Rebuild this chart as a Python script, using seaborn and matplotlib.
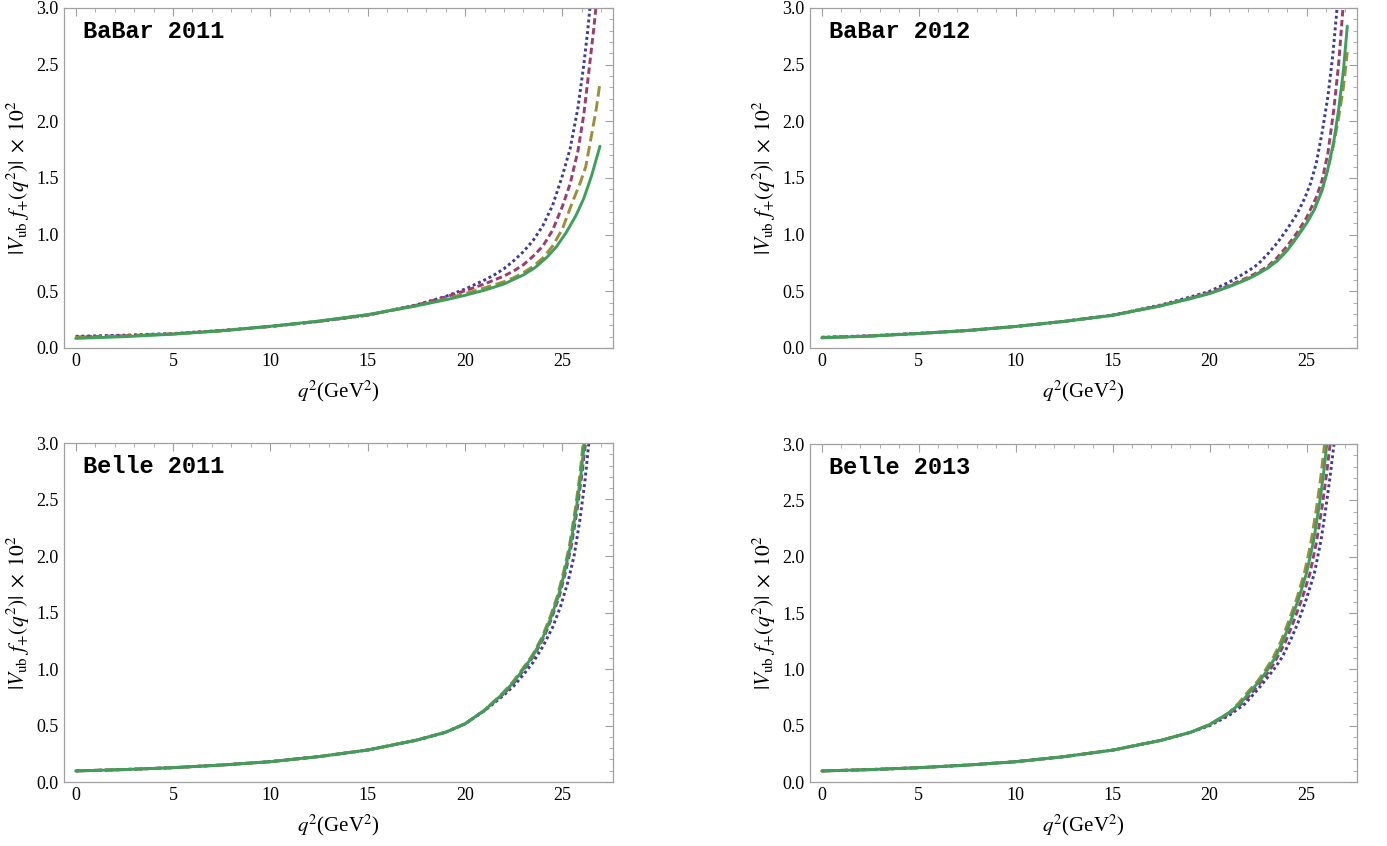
import matplotlib
matplotlib.use("Agg")
import matplotlib.pyplot as plt
import seaborn as sns
from matplotlib.ticker import MultipleLocator

# --- Data ---
low_q = [0, 2.5, 5, 7.5, 10, 12.5, 15, 17.5, 19]

# BaBar 2011
q_b11_blue = low_q + [20, 21, 21.5, 22, 22.5, 23, 23.5, 24, 24.5, 25, 25.4, 25.8, 26.1, 26.3, 26.5]
v_b11_blue = [0.103, 0.113, 0.128, 0.155, 0.19, 0.235, 0.29, 0.38, 0.455,
              0.52, 0.6, 0.645, 0.7, 0.77, 0.85, 0.95, 1.08, 1.26, 1.52, 1.76, 2.12, 2.5, 2.8, 3.15]
q_b11_purple = low_q + [20, 21, 22, 22.5, 23, 23.5, 24, 24.5, 25, 25.4, 25.8, 26.1, 26.4, 26.6, 26.78]
v_b11_purple = [0.097, 0.108, 0.125, 0.153, 0.19, 0.235, 0.29, 0.378, 0.45,
                0.505, 0.565, 0.635, 0.68, 0.735, 0.81, 0.9, 1.04, 1.25, 1.45, 1.74, 2.06, 2.5, 2.8, 3.1]
q_b11_olive = low_q + [20, 21, 22, 22.5, 23, 23.5, 24, 24.5, 25, 25.5, 25.9, 26.2, 26.5, 26.75, 26.93]
v_b11_olive = [0.092, 0.105, 0.124, 0.152, 0.19, 0.236, 0.292, 0.372, 0.432,
               0.48, 0.53, 0.585, 0.62, 0.665, 0.72, 0.795, 0.9, 1.05, 1.28, 1.45, 1.6, 1.88, 2.12, 2.34]
q_b11_green = low_q + [20, 21, 22, 23, 23.6, 24.2, 24.7, 25.2, 25.7, 26.1, 26.5, 26.93]
v_b11_green = [0.085, 0.1, 0.122, 0.152, 0.192, 0.238, 0.295, 0.372, 0.425,
               0.465, 0.51, 0.565, 0.645, 0.71, 0.8, 0.895, 1.02, 1.17, 1.32, 1.52, 1.78]

# BaBar 2012
q_b12_blue = low_q + [20, 21, 22, 22.5, 23, 23.5, 24, 24.5, 24.9, 25.2, 25.5, 25.8, 26.1, 26.35, 26.6]
v_b12_blue = [0.095, 0.108, 0.13, 0.155, 0.19, 0.235, 0.29, 0.38, 0.45,
              0.5, 0.58, 0.68, 0.74, 0.83, 0.93, 1.05, 1.18, 1.32, 1.45, 1.63, 1.9, 2.22, 2.58, 3.05]
q_b12_purple = low_q + [20, 21, 22, 22.5, 23, 23.5, 24, 24.5, 25, 25.5, 25.8, 26.1, 26.4, 26.65, 26.9]
v_b12_purple = [0.093, 0.106, 0.128, 0.154, 0.19, 0.235, 0.29, 0.375, 0.44,
                0.49, 0.55, 0.625, 0.67, 0.72, 0.8, 0.9, 1.015, 1.15, 1.33, 1.48, 1.72, 2.1, 2.5, 3.05]
q_b12_olive = low_q + [20, 21, 22, 22.5, 23, 23.5, 24, 24.5, 25, 25.4, 25.8, 26.1, 26.4, 26.65, 26.9, 27.1]
v_b12_olive = [0.09, 0.105, 0.128, 0.154, 0.19, 0.235, 0.289, 0.373, 0.437,
               0.483, 0.543, 0.615, 0.66, 0.71, 0.778, 0.87, 0.985, 1.11, 1.23, 1.4, 1.58, 1.8, 2.03, 2.3, 2.61]
q_b12_green = low_q + [20, 21, 22, 22.5, 23, 23.5, 24, 24.5, 25, 25.4, 25.8, 26.1, 26.4, 26.65, 26.9, 27.1]
v_b12_green = [0.09, 0.105, 0.128, 0.154, 0.19, 0.235, 0.288, 0.372, 0.435,
               0.48, 0.54, 0.61, 0.655, 0.705, 0.77, 0.86, 0.975, 1.1, 1.22, 1.39, 1.58, 1.82, 2.1, 2.45, 2.84]

# Belle 2011
belle_low_v = [0.098, 0.11, 0.127, 0.15, 0.18, 0.225, 0.283, 0.37, 0.44]
q_e11_blue = low_q + [20, 21, 22, 22.5, 23, 23.5, 24, 24.5, 24.9, 25.3, 25.6, 25.9, 26.15, 26.42]
v_e11_blue = belle_low_v + [0.515, 0.63, 0.77, 0.85, 0.95, 1.06, 1.2, 1.37, 1.55, 1.78, 2.0, 2.32, 2.65, 3.1]
q_e11_purple = low_q + [20, 21, 22.05, 22.55, 23.05, 23.55, 24.05, 24.45, 24.85, 25.15, 25.45, 25.75, 26.0, 26.23]
v_e11_purple = belle_low_v + [0.515, 0.635, 0.79, 0.885, 1.0, 1.12, 1.28, 1.45, 1.65, 1.85, 2.08, 2.4, 2.72, 3.06]
q_e11_olive = low_q + [20, 21, 21.95, 22.45, 22.95, 23.45, 23.95, 24.35, 24.75, 25.05, 25.35, 25.65, 25.9, 26.1]
v_e11_olive = belle_low_v + [0.515, 0.635, 0.79, 0.885, 1.0, 1.12, 1.28, 1.45, 1.65, 1.85, 2.08, 2.4, 2.72, 3.06]
q_e11_green = low_q + [20, 21, 22, 22.5, 23, 23.5, 24, 24.4, 24.8, 25.1, 25.4, 25.7, 25.95, 26.17]
v_e11_green = belle_low_v + [0.515, 0.635, 0.79, 0.885, 1.0, 1.12, 1.28, 1.45, 1.65, 1.85, 2.08, 2.4, 2.72, 3.06]

# Belle 2013
q_e13_blue = low_q + [20, 21, 21.8, 22.46, 23, 23.4, 23.75, 24.15, 24.55, 25.0, 25.4, 25.75, 26.0, 26.22, 26.45]
v_e13_blue = belle_low_v + [0.5, 0.59, 0.69, 0.816, 0.93, 1.02, 1.11, 1.25, 1.41, 1.63, 1.85, 2.15, 2.44, 2.72, 3.05]
q_e13_purple = low_q + [20, 21, 21.7, 22.3, 22.8, 23.2, 23.5, 23.9, 24.3, 24.75, 25.17, 25.5, 25.8, 26.02, 26.25]
v_e13_purple = belle_low_v + [0.505, 0.605, 0.7, 0.816, 0.92, 1.02, 1.11, 1.24, 1.41, 1.62, 1.85, 2.12, 2.44, 2.72, 3.05]
q_e13_olive = low_q + [20, 21, 21.5, 22.0, 22.5, 22.9, 23.3, 23.68, 24.02, 24.48, 24.88, 25.23, 25.52, 25.73, 25.96]
v_e13_olive = belle_low_v + [0.51, 0.615, 0.7, 0.805, 0.9, 1.0, 1.11, 1.25, 1.4, 1.62, 1.85, 2.13, 2.44, 2.7, 3.05]
q_e13_green = low_q + [20, 21, 21.6, 22.1, 22.6, 23.0, 23.4, 23.78, 24.12, 24.58, 24.99, 25.35, 25.64, 25.85, 26.08]
v_e13_green = belle_low_v + [0.51, 0.615, 0.7, 0.805, 0.9, 1.0, 1.11, 1.25, 1.4, 1.62, 1.85, 2.13, 2.44, 2.7, 3.05]

titles = ["BaBar 2011", "BaBar 2012", "Belle 2011", "Belle 2013"]

# --- Style ---
sns.set_theme(style="white")
plt.rcParams["font.family"] = ["Liberation Serif", "DejaVu Serif"]
plt.rcParams["mathtext.fontset"] = "stix"
plt.rcParams["text.color"] = "black"
plt.rcParams["axes.labelcolor"] = "black"

BLUE = "#3c3c9c"
PURPLE = "#9c3c70"
OLIVE = "#a08c3c"
GREEN = "#3e9f5a"
FRAME = "#a0a0a0"

panels = [
    (titles[0], [(q_b11_blue, v_b11_blue), (q_b11_purple, v_b11_purple), (q_b11_olive, v_b11_olive), (q_b11_green, v_b11_green)]),
    (titles[1], [(q_b12_blue, v_b12_blue), (q_b12_purple, v_b12_purple), (q_b12_olive, v_b12_olive), (q_b12_green, v_b12_green)]),
    (titles[2], [(q_e11_blue, v_e11_blue), (q_e11_purple, v_e11_purple), (q_e11_olive, v_e11_olive), (q_e11_green, v_e11_green)]),
    (titles[3], [(q_e13_blue, v_e13_blue), (q_e13_purple, v_e13_purple), (q_e13_olive, v_e13_olive), (q_e13_green, v_e13_green)]),
]

line_styles = [
    (BLUE, (0, (1.0, 1.0))),
    (PURPLE, (0, (2.2, 1.2))),
    (OLIVE, (0, (3.6, 1.6))),
    (GREEN, "-"),
]

W, H = 1387, 846
fig = plt.figure(figsize=(W / 100, H / 100), dpi=100)
rects = [(64, 8, 549, 340), (810, 8, 547, 340), (64, 443, 549, 339), (810, 444, 547, 338)]

for (title, curves), (x0, y0, w, h) in zip(panels, rects):
    ax = fig.add_axes([x0 / W, 1 - (y0 + h) / H, w / W, h / H])
    for (q, v), (col, ls) in zip(curves, line_styles):
        sns.lineplot(x=q, y=v, ax=ax, color=col, linestyle=ls, linewidth=2.1)

    ax.set_xlim(-0.6, 27.6)
    ax.set_ylim(0, 3.0)
    ax.xaxis.set_major_locator(MultipleLocator(5))
    ax.xaxis.set_minor_locator(MultipleLocator(1))
    ax.yaxis.set_major_locator(MultipleLocator(0.5))
    ax.yaxis.set_minor_locator(MultipleLocator(0.1))
    ax.yaxis.set_major_formatter(plt.FormatStrFormatter("%.1f"))
    ax.tick_params(which="both", direction="in", top=True, right=True, colors=FRAME,
                   labelcolor="black", labelsize=13)
    ax.tick_params(which="major", length=6, width=0.8)
    ax.tick_params(which="minor", length=3, width=0.6)
    ax.tick_params(axis="y", pad=4)
    for s in ax.spines.values():
        s.set_color(FRAME)
        s.set_linewidth(0.9)

    ax.set_xlabel(r"$q^2$(GeV$^2$)", fontsize=15, labelpad=6)
    ax.set_ylabel(r"$|V_{\rm ub}\ f_{+}(q^{2})|\;\times\;10^{2}$", fontsize=15.5, labelpad=3)
    ax.text(0.035, 0.93, title, transform=ax.transAxes, ha="left", va="center", color="black",
            fontsize=17, fontweight="bold", family=["Liberation Mono", "DejaVu Sans Mono"])

fig.savefig("out.png", dpi=100)
